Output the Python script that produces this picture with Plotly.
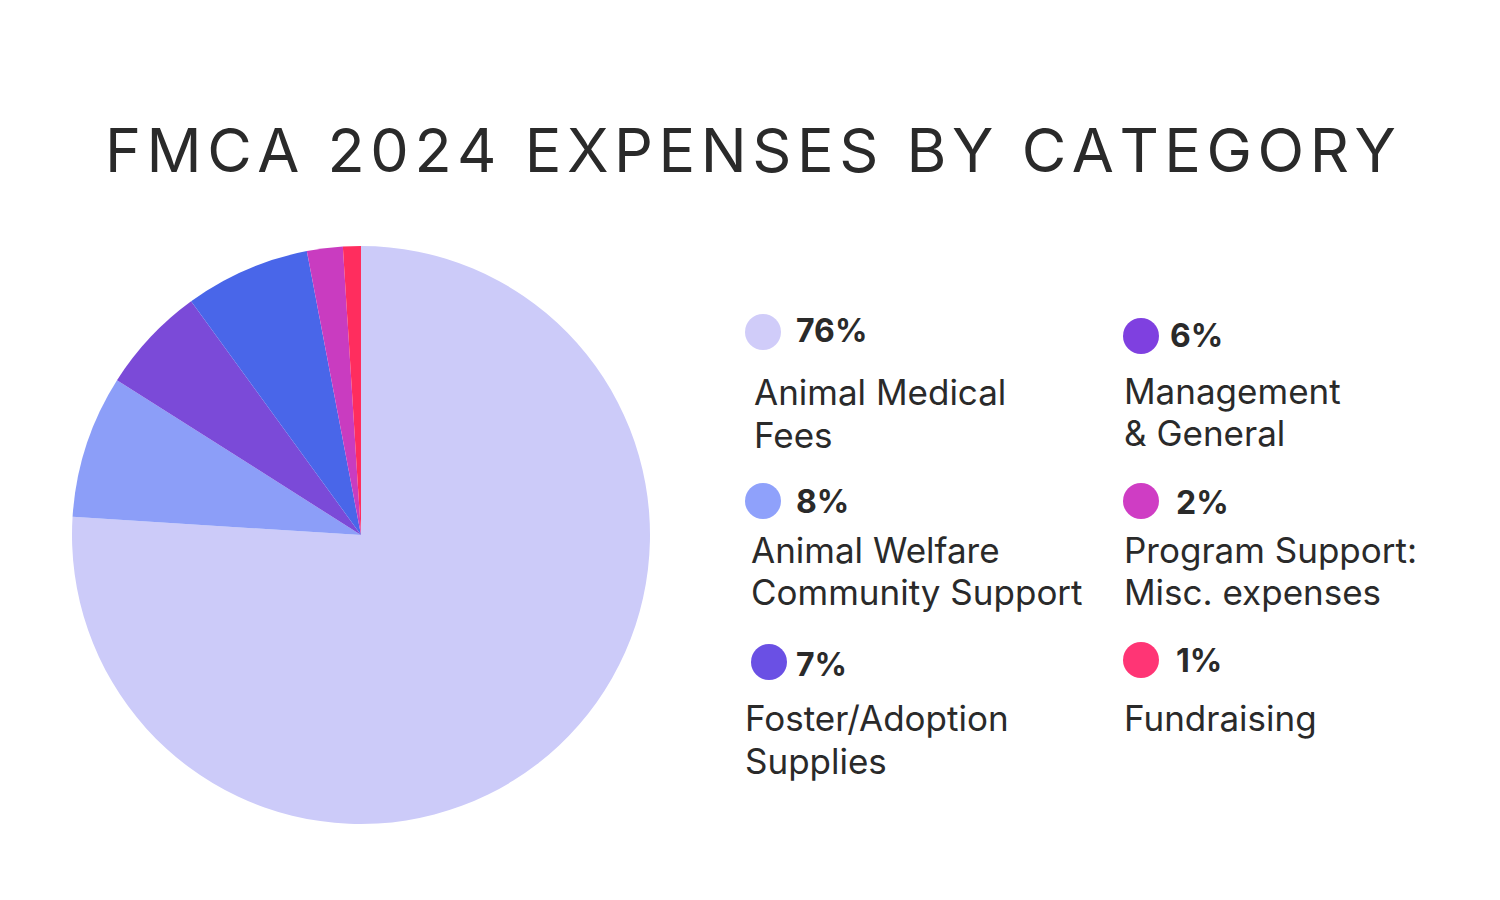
import plotly.graph_objects as go

# ---- data ----
categories = [
    "Animal Medical Fees",
    "Animal Welfare Community Support",
    "Management & General",
    "Foster/Adoption Supplies",
    "Program Support: Misc. expenses",
    "Fundraising",
]
values = [76, 8, 6, 7, 2, 1]
slice_colors = ["#cccbf9", "#8c9ef8", "#7b4ad8", "#4966e9", "#c93cc0", "#ff2d5e"]

# legend entries (display order) : percent label, label lines, dot colour
legend_pct = ["76%", "8%", "7%", "6%", "2%", "1%"]
legend_lines = [
    ["Animal Medical", "Fees"],
    ["Animal Welfare", "Community Support"],
    ["Foster/Adoption", "Supplies"],
    ["Management", "& General"],
    ["Program Support:", "Misc. expenses"],
    ["Fundraising"],
]
legend_dot_colors = ["#d0ccf9", "#8fa1fb", "#6a50e4", "#7f40e0", "#cf3dc4", "#ff3575"]

title_text = "FMCA 2024 EXPENSES BY CATEGORY"

# ---- layout (pixel positions) ----
W, H = 1500, 900
dot_pos = [(763, 332), (763, 501), (769, 662), (1141, 336), (1141, 501), (1141, 660)]
dot_r = 18
pct_pos = [(794, 330), (794, 501), (794, 664), (1168, 335), (1174, 502), (1174, 660)]
line_pos = [
    [(752, 392), (752, 435)],
    [(749, 550), (749, 592)],
    [(743, 718), (743, 761)],
    [(1122, 391), (1122, 433)],
    [(1122, 550), (1122, 592)],
    [(1122, 718)],
]

def px(x):
    return x / W

def py(y):
    return 1 - y / H

cx, cy, r = 361, 535, 289

fig = go.Figure(
    go.Pie(
        labels=categories,
        values=values,
        sort=False,
        direction="clockwise",
        rotation=0,
        textinfo="none",
        hoverinfo="label+percent",
        marker=dict(colors=slice_colors, line=dict(width=0)),
        domain=dict(x=[px(cx - r), px(cx + r)], y=[py(cy + r), py(cy - r)]),
        showlegend=False,
    )
)

annotations = []
shapes = []

spaced_title = "\u200a".join(list(title_text))
annotations.append(dict(
    text=spaced_title, x=px(750), y=py(150), xref="paper", yref="paper",
    xanchor="center", yanchor="middle", showarrow=False,
    font=dict(family="Inter", size=61, color="#2a2a2a"),
))

for i in range(len(legend_pct)):
    dx, dy = dot_pos[i]
    shapes.append(dict(
        type="circle", xref="paper", yref="paper",
        x0=px(dx - dot_r), x1=px(dx + dot_r), y0=py(dy + dot_r), y1=py(dy - dot_r),
        fillcolor=legend_dot_colors[i], line=dict(width=0),
    ))
    tx, ty = pct_pos[i]
    annotations.append(dict(
        text="<b>" + legend_pct[i] + "</b>", x=px(tx), y=py(ty), xref="paper", yref="paper",
        xanchor="left", yanchor="middle", showarrow=False,
        font=dict(family="Inter", size=32, color="#2a2a2a"),
    ))
    for line, (lx, ly) in zip(legend_lines[i], line_pos[i]):
        annotations.append(dict(
            text=line, x=px(lx), y=py(ly), xref="paper", yref="paper",
            xanchor="left", yanchor="middle", showarrow=False,
            font=dict(family="Inter", size=35, color="#2a2a2a"),
        ))

fig.update_layout(
    width=W, height=H,
    margin=dict(l=0, r=0, t=0, b=0),
    paper_bgcolor="white", plot_bgcolor="white",
    annotations=annotations, shapes=shapes,
)

fig.write_html("out.html")
